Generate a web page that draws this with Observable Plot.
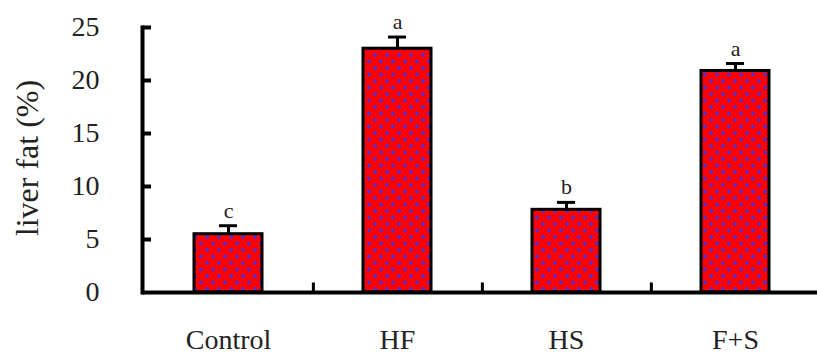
<!DOCTYPE html>
<html>
<head>
<meta charset="utf-8">
<script src="https://cdn.jsdelivr.net/npm/d3@7"></script>
<script src="https://cdn.jsdelivr.net/npm/@observablehq/plot@0.6"></script>
<style>
  html, body { margin: 0; padding: 0; background: #fff; }
  #chart svg { display: block; }
</style>
</head>
<body>
<div id="chart"></div>
<script>
// Data
const groups = ["Control", "HF", "HS", "F+S"];
const means = [5.5, 23.0, 7.8, 20.9];
const errors = [0.8, 1.1, 0.7, 0.7];
const letters = ["c", "a", "b", "a"];
const yTicks = [0, 5, 10, 15, 20, 25];
const yLabel = "liver fat (%)";

const rows = groups.map((g, i) => ({group: g, mean: means[i], top: means[i] + errors[i], letter: letters[i]}));

const W = 817, H = 354, mL = 142, mR = 0, mT = 27, mB = 62;
const xRange = [mL, 821];
const step = (xRange[1] - xRange[0]) / (groups.length - 0.6 + 0.6);
const tickLen = 9;

const font = "'Liberation Serif', 'Times New Roman', serif";

const defsMark = () => {
  const defs = d3.create("svg:defs");
  const p = defs.append("pattern").attr("id", "dots")
    .attr("patternUnits", "userSpaceOnUse").attr("width", 12).attr("height", 13);
  p.append("rect").attr("width", 12).attr("height", 13).attr("fill", "#ff0000");
  p.append("circle").attr("cx", 3).attr("cy", 3).attr("r", 2).attr("fill", "#5a2cc8");
  p.append("circle").attr("cx", 9).attr("cy", 9.5).attr("r", 2).attr("fill", "#5a2cc8");
  return defs.node();
};

const chart = Plot.plot({
  width: W,
  height: H,
  marginLeft: mL,
  marginRight: mR,
  marginTop: mT,
  marginBottom: mB,
  style: {fontFamily: font, color: "#222", background: "#fff"},
  x: {domain: groups, range: xRange, paddingInner: 0.6, paddingOuter: 0.3, label: null},
  y: {domain: [0, 25], label: null},
  marks: [
    defsMark,
    Plot.barY(rows, {x: "group", y: "mean", fill: "url(#dots)", stroke: "#000", strokeWidth: 3}),
    Plot.ruleX(rows, {x: "group", y1: "mean", y2: "top", stroke: "#000", strokeWidth: 3}),
    Plot.tickY(rows, {x: "group", y: "top", stroke: "#000", strokeWidth: 3, insetLeft: 25, insetRight: 25}),
    Plot.text(rows, {x: "group", y: "top", text: "letter", lineAnchor: "bottom", dy: -8, fontSize: 22, fill: "#222", fontFamily: font}),
    Plot.ruleY([0], {stroke: "#000", strokeWidth: 4}),
    Plot.frame({anchor: "left", stroke: "#000", strokeWidth: 4}),
    Plot.tickY(yTicks.slice(1), {y: d => d, stroke: "#000", strokeWidth: 4, insetLeft: 0, insetRight: W - mL - mR - tickLen}),
    Plot.ruleX(groups.slice(0, -1), {x: d => d, dx: step / 2, y1: 0, y2: 0.9, stroke: "#000", strokeWidth: 3}),
    Plot.axisY({ticks: yTicks, tickSize: 0, tickPadding: 43, tickFormat: d => d, fontSize: 28, fill: "#222", label: null}),
    Plot.axisX({tickSize: 0, tickPadding: 37, fontSize: 28, fill: "#222", label: null}),
    Plot.text([yLabel], {frameAnchor: "left", textAnchor: "middle", dx: -115, dy: -2, rotate: -90, fontSize: 32, fill: "#222", fontFamily: font})
  ]
});

document.getElementById("chart").appendChild(chart);
</script>
</body>
</html>
